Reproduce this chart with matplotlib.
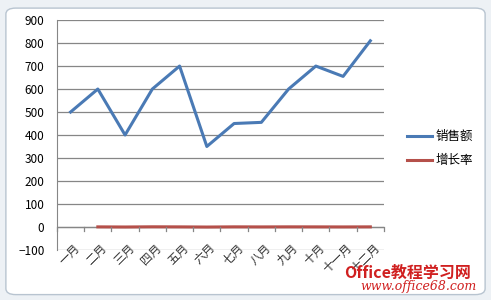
import numpy as np
import matplotlib
matplotlib.use("Agg")
import matplotlib.pyplot as plt
from matplotlib.patches import FancyBboxPatch

plt.rcParams['font.family'] = ['Noto Sans CJK SC', 'DejaVu Sans']

# ----- data -----
months = ['一月', '二月', '三月', '四月', '五月', '六月',
          '七月', '八月', '九月', '十月', '十一月', '十二月']
sales = [500, 600, 400, 600, 700, 350, 450, 455, 600, 700, 655, 810]
growth = [np.nan, 0.2, -0.33, 0.5, 0.17, -0.5, 0.29, 0.01, 0.32, 0.17, -0.06, 0.24]
yticks = [-100, 0, 100, 200, 300, 400, 500, 600, 700, 800, 900]

blue = '#4a7ab5'
red = '#b5504a'

fig = plt.figure(figsize=(4.91, 3.0), dpi=100)
fig.patch.set_facecolor('#edf1f5')

# chart area (rounded white panel like Excel)
panel = FancyBboxPatch((0.012, 0.018), 0.976, 0.955,
                       boxstyle="round,pad=0,rounding_size=0.02",
                       transform=fig.transFigure, facecolor='white',
                       edgecolor='#b8c4d0', linewidth=1.0, zorder=-10)
fig.add_artist(panel)

ax = fig.add_axes([0.116, 0.167, 0.666, 0.766])
ax.set_facecolor('none')

x = np.arange(len(months))
ax.plot(x, sales, color=blue, linewidth=2.2, label='销售额')
ax.plot(x, growth, color=red, linewidth=2.2, label='增长率')

ax.set_xlim(-0.5, len(months) - 0.5)
ax.set_ylim(-100, 900)
ax.set_yticks(yticks)
ax.yaxis.grid(True, color='#868686', linewidth=0.9)
ax.set_axisbelow(True)
ax.tick_params(axis='y', length=0, labelsize=8.5, pad=9)

for s in ['top', 'right', 'bottom']:
    ax.spines[s].set_visible(False)
ax.spines['left'].set_color('#868686')

# category axis at y = 0 with boundary tick marks
ax.axhline(0, color='#868686', linewidth=0.9, zorder=1)
ax.set_xticks(x)
ax.set_xticklabels([])
ax.tick_params(axis='x', length=0)
for b in np.arange(-0.5, len(months), 1.0):
    ax.plot([b, b], [0, -18], color='#868686', linewidth=0.9, clip_on=False)
for xi, m in zip(x, months):
    ax.text(xi + 0.1, -62, m, rotation=45, ha='right', va='top',
            rotation_mode='anchor', fontsize=8.5, color='#333333')

leg = fig.legend(loc='center left', bbox_to_anchor=(0.805, 0.505),
                 frameon=False, fontsize=9, handlelength=2.0,
                 handletextpad=0.3, labelspacing=0.9)

# watermark
fig.text(0.83, 0.092, 'Office教程学习网', color='#d02020', fontsize=11.5,
         fontweight='bold', ha='center', va='center', style='italic')
fig.text(0.852, 0.045, 'www.office68.com', color='#d02020', fontsize=9,
         ha='center', va='center', style='italic', family='DejaVu Serif')

fig.savefig('out.png', dpi=100)
